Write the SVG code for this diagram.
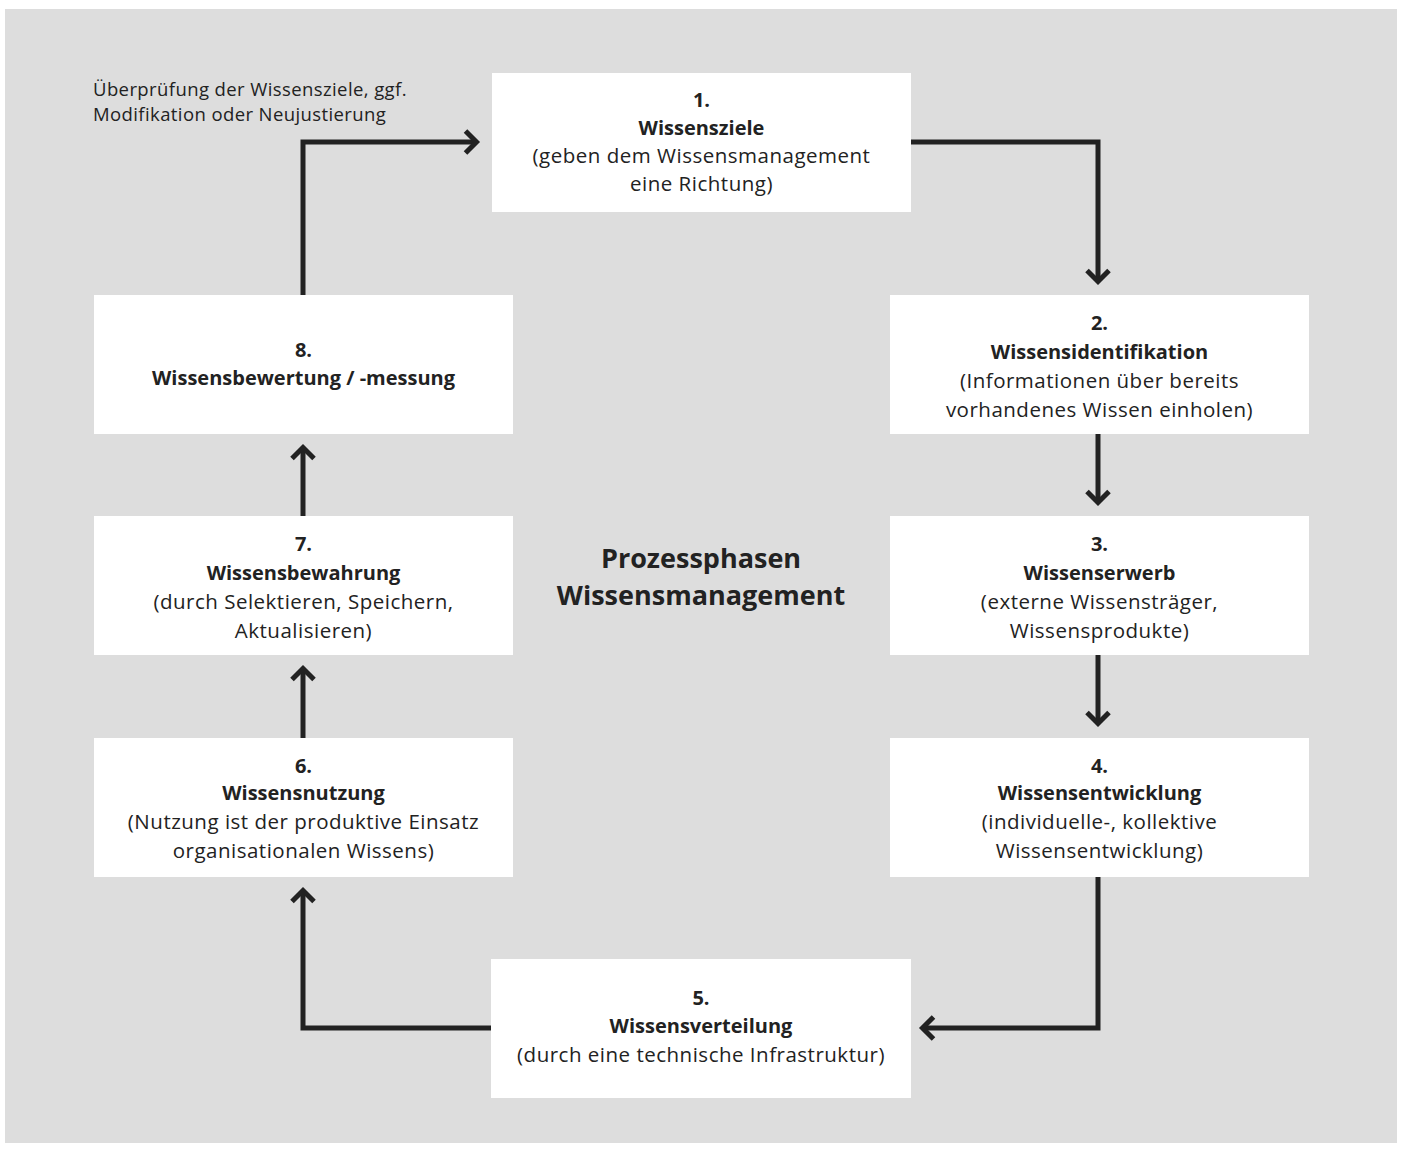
<svg xmlns="http://www.w3.org/2000/svg" width="1401" height="1153" viewBox="0 0 1401 1153">
  <style>
    .box { fill: #ffffff; }
    .t { font-family: "Open Sans", "Liberation Sans", sans-serif; font-size: 20.5px; letter-spacing: 0.5px; fill: #222222; text-anchor: middle; }
    .b { font-size: 20px; font-weight: bold; letter-spacing: 0; }
    .note { font-family: "Open Sans", "Liberation Sans", sans-serif; font-size: 18.5px; letter-spacing: 0.4px; fill: #222222; }
    .title { font-family: "Open Sans", "Liberation Sans", sans-serif; font-size: 27px; font-weight: bold; fill: #222222; text-anchor: middle; }
    .conn { fill: none; stroke: #222222; stroke-width: 5; stroke-linejoin: miter; marker-end: url(#chev); }
  </style>
  <defs>
    <marker id="chev" markerUnits="userSpaceOnUse" viewBox="-20 -15 30 30" markerWidth="30" markerHeight="30" refX="0" refY="0" orient="auto">
      <path d="M-11,-11 L0,0 L-11,11" fill="none" stroke="#222222" stroke-width="5" stroke-linejoin="miter"/>
    </marker>
  </defs>

  <!-- backdrop -->
  <rect x="5" y="9" width="1392" height="1134" fill="#dddddd"/>

  <text class="note" x="93" y="96">Überprüfung der Wissensziele, ggf.</text>
  <text class="note" x="93" y="121">Modifikation oder Neujustierung</text>

  <g id="title">
    <text class="title" x="701" y="568">Prozessphasen</text>
    <text class="title" x="701" y="605">Wissensmanagement</text>
  </g>

  <g id="node1">
    <rect class="box" x="492" y="73" width="419" height="139"/>
    <text class="t b" x="701.5" y="107">1.</text>
    <text class="t b" x="701.5" y="135">Wissensziele</text>
    <text class="t" x="701.5" y="163">(geben dem Wissensmanagement</text>
    <text class="t" x="701.5" y="191">eine Richtung)</text>
  </g>

  <g id="node2">
    <rect class="box" x="890" y="295" width="419" height="139"/>
    <text class="t b" x="1099.5" y="330">2.</text>
    <text class="t b" x="1099.5" y="359">Wissensidentifikation</text>
    <text class="t" x="1099.5" y="388">(Informationen über bereits</text>
    <text class="t" x="1099.5" y="417">vorhandenes Wissen einholen)</text>
  </g>

  <g id="node3">
    <rect class="box" x="890" y="516" width="419" height="139"/>
    <text class="t b" x="1099.5" y="551">3.</text>
    <text class="t b" x="1099.5" y="580">Wissenserwerb</text>
    <text class="t" x="1099.5" y="609">(externe Wissensträger,</text>
    <text class="t" x="1099.5" y="638">Wissensprodukte)</text>
  </g>

  <g id="node4">
    <rect class="box" x="890" y="738" width="419" height="139"/>
    <text class="t b" x="1099.5" y="773">4.</text>
    <text class="t b" x="1099.5" y="800">Wissensentwicklung</text>
    <text class="t" x="1099.5" y="829">(individuelle-, kollektive</text>
    <text class="t" x="1099.5" y="858">Wissensentwicklung)</text>
  </g>

  <g id="node5">
    <rect class="box" x="491" y="959" width="420" height="139"/>
    <text class="t b" x="701" y="1005">5.</text>
    <text class="t b" x="701" y="1033">Wissensverteilung</text>
    <text class="t" x="701" y="1062">(durch eine technische Infrastruktur)</text>
  </g>

  <g id="node6">
    <rect class="box" x="94" y="738" width="419" height="139"/>
    <text class="t b" x="303.5" y="773">6.</text>
    <text class="t b" x="303.5" y="800">Wissensnutzung</text>
    <text class="t" x="303.5" y="829">(Nutzung ist der produktive Einsatz</text>
    <text class="t" x="303.5" y="858">organisationalen Wissens)</text>
  </g>

  <g id="node7">
    <rect class="box" x="94" y="516" width="419" height="139"/>
    <text class="t b" x="303.5" y="551">7.</text>
    <text class="t b" x="303.5" y="580">Wissensbewahrung</text>
    <text class="t" x="303.5" y="609">(durch Selektieren, Speichern,</text>
    <text class="t" x="303.5" y="638">Aktualisieren)</text>
  </g>

  <g id="node8">
    <rect class="box" x="94" y="295" width="419" height="139"/>
    <text class="t b" x="303.5" y="357">8.</text>
    <text class="t b" x="303.5" y="385">Wissensbewertung / -messung</text>
  </g>

  <g id="connectors">
    <path class="conn" d="M303,295 V142 H476.5"/>
    <path class="conn" d="M911,142 H1098 V281.5"/>
    <path class="conn" d="M1098,434 V502.5"/>
    <path class="conn" d="M1098,655 V723.5"/>
    <path class="conn" d="M1098,877 V1028 H922.5"/>
    <path class="conn" d="M491,1028 H303 V890.5"/>
    <path class="conn" d="M303,738 V668.5"/>
    <path class="conn" d="M303,516 V447.5"/>
  </g>
</svg>
